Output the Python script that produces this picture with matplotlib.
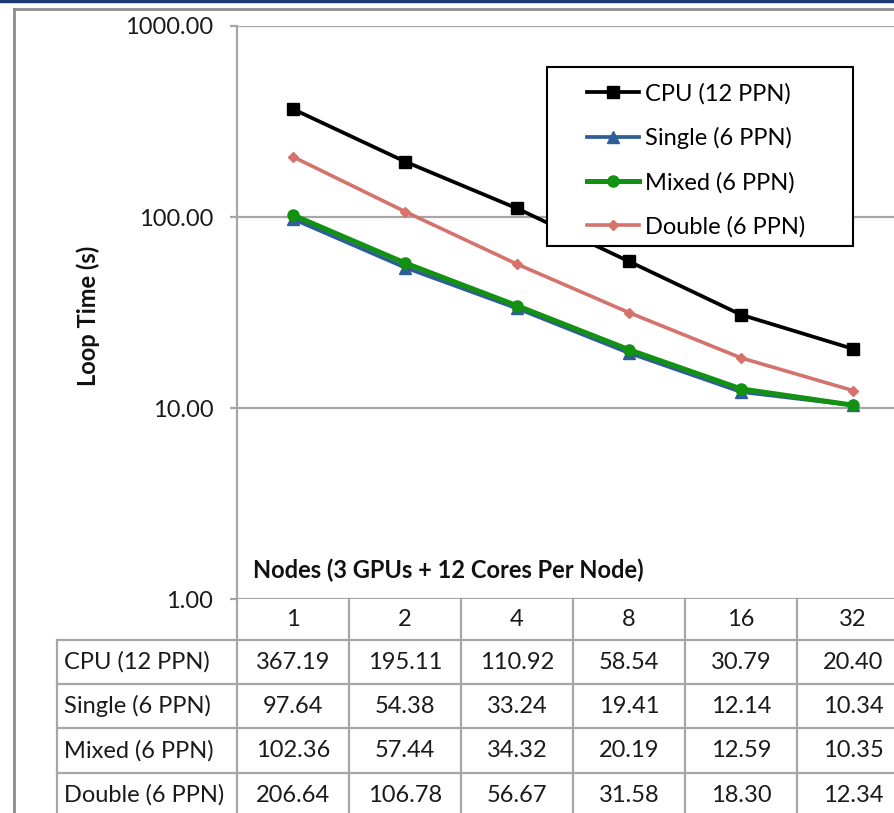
import matplotlib

matplotlib.use("Agg")
import matplotlib.pyplot as plt
from matplotlib.lines import Line2D
from matplotlib.patches import Rectangle
from matplotlib.transforms import blended_transform_factory
from matplotlib.ticker import FixedLocator, FormatStrFormatter

plt.rcParams["font.family"] = ["Lato", "DejaVu Sans"]

NODES = ["1", "2", "4", "8", "16", "32"]
SERIES = ["CPU (12 PPN)", "Single (6 PPN)", "Mixed (6 PPN)", "Double (6 PPN)"]
CPU = [367.19, 195.11, 110.92, 58.54, 30.79, 20.40]
SINGLE = [97.64, 54.38, 33.24, 19.41, 12.14, 10.34]
MIXED = [102.36, 57.44, 34.32, 20.19, 12.59, 10.35]
DOUBLE = [206.64, 106.78, 56.67, 31.58, 18.30, 12.34]

STYLES = [
    dict(color="#000000", marker="s", markersize=8, linewidth=2.7),
    dict(color="#2f5d96", marker="^", markersize=8, linewidth=2.7),
    dict(color="#129112", marker="o", markersize=8, linewidth=3.6),
    dict(color="#d4726b", marker="D", markersize=5.5, linewidth=2.6),
]

W, H = 895, 813
GRID = "#a6a6a6"
TEXT = "#1a1a1a"
FS = 17


def px(x, y):
    # pixel position (from top-left) -> figure fraction
    return x / W, 1 - y / H


fig = plt.figure(figsize=(W / 100, H / 100), dpi=100)
left, top, right, bottom = 237, 26, 909, 599
ax = fig.add_axes([left / W, 1 - bottom / H, (right - left) / W, (bottom - top) / H])

xs = list(range(len(NODES)))
values = [CPU, SINGLE, MIXED, DOUBLE]
handles = []
for name, vals, st in zip(SERIES, values, STYLES):
    (h,) = ax.plot(xs, vals, label=name, zorder=3, clip_on=False, **st)
    handles.append(h)

ax.set_yscale("log")
ax.set_ylim(1, 1000)
ax.set_xlim(-0.5, len(NODES) - 0.5)
ax.yaxis.set_major_locator(FixedLocator([1, 10, 100, 1000]))
ax.yaxis.set_minor_locator(FixedLocator([]))
ax.yaxis.set_major_formatter(FormatStrFormatter("%.2f"))
ax.set_xticks([])
ax.tick_params(axis="y", length=5, width=1.6, color=GRID, pad=12, labelsize=FS, labelcolor=TEXT)
ax.grid(axis="y", color=GRID, linewidth=1.6)
for side in ["top", "right", "bottom"]:
    ax.spines[side].set_visible(False)
ax.spines["left"].set_color(GRID)
ax.spines["left"].set_linewidth(1.6)

# data table under the plot, columns aligned with the categories
tr = blended_transform_factory(ax.transData, ax.transAxes)
ph = bottom - top
col_w = (right - left) / len(NODES)
label_left = -0.5 - (left - 57) / col_w
row_edges_px = [599, 640, 684, 728, 773, 817]
row_edges = [(bottom - y) / ph for y in row_edges_px]


def tline(xa, ya):
    ax.add_line(Line2D(xa, ya, transform=tr, clip_on=False, color=GRID, linewidth=1.6))


for y in row_edges[1:]:
    tline([label_left, len(NODES) - 0.5], [y, y])
for i in range(len(NODES) + 1):
    xv = i - 0.5
    tline([xv, xv], [row_edges[0], row_edges[-1]])
tline([label_left, label_left], [row_edges[1], row_edges[-1]])

for i, n in enumerate(NODES):
    yc = (row_edges[0] + row_edges[1]) / 2
    ax.text(i, yc, n, transform=tr, ha="center", va="center", fontsize=FS, color=TEXT, clip_on=False)
for r, (name, vals) in enumerate(zip(SERIES, values)):
    yc = (row_edges[r + 1] + row_edges[r + 2]) / 2
    ax.text(label_left + 7 / col_w, yc, name, transform=tr, ha="left", va="center",
            fontsize=FS, color=TEXT, clip_on=False)
    for i, v in enumerate(vals):
        ax.text(i, yc, f"{v:.2f}", transform=tr, ha="center", va="center",
                fontsize=FS, color=TEXT, clip_on=False)

ax.text(16 / (right - left), (bottom - 570) / ph, "Nodes (3 GPUs + 12 Cores Per Node)",
        transform=ax.transAxes, ha="left", va="center", fontsize=FS, fontweight="bold", color="#111111")
fig.text(*px(88, 316), "Loop Time (s)", rotation=90, ha="center", va="center",
         fontsize=FS, fontweight="bold", color="#111111")

# legend box
lx0, ly0, lx1, ly1 = 547, 67, 853, 246
fig.patches.append(Rectangle(px(lx0, ly1), (lx1 - lx0) / W, (ly1 - ly0) / H, transform=fig.transFigure,
                             facecolor="white", edgecolor="black", linewidth=1.5, zorder=2))
fig.legend(handles, SERIES, loc="upper left", bbox_to_anchor=px(587, 83), frameon=False,
           borderpad=0, borderaxespad=0, handlelength=2.2, handletextpad=0.25,
           labelspacing=0.96, fontsize=FS).set_zorder(3)

# outer frame
fig.add_artist(Line2D([0, 1], [1 - 1.5 / H] * 2, transform=fig.transFigure, color="#1d3a74", linewidth=2.5))
fig.add_artist(Line2D([14 / W, 1], [1 - 9 / H] * 2, transform=fig.transFigure, color="#8c8c8c", linewidth=2))
fig.add_artist(Line2D([14 / W] * 2, [1 - 9 / H, 0], transform=fig.transFigure, color="#8c8c8c", linewidth=2))

fig.savefig("out.png", dpi=100)
